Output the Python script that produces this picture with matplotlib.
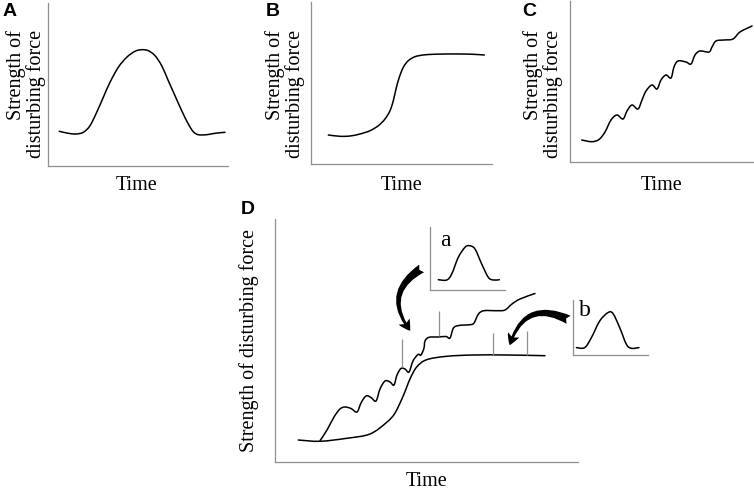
"""Schematic of disturbing-force profiles over time (pulse, step, ramp, combined)."""

import matplotlib

matplotlib.use("Agg")
import matplotlib.pyplot as plt
import numpy as np
from matplotlib.patches import FancyArrowPatch, PathPatch
from matplotlib.path import Path

W, H = 754, 489

# A: pulse disturbance
a_time = [11.3, 20.3, 28, 35.3, 42, 48.7, 55.3, 62, 70.3, 78.7, 87, 93.7,
          100.3, 107, 113.7, 120.3, 127, 133.7, 140.3, 145.3, 150.3, 158.7, 167, 177]
a_force = [34.7, 32.7, 32, 33.7, 40.3, 53.7, 68.7, 83.7, 98.7, 108.7, 114.7, 116.3,
           115.3, 110.3, 100.3, 85.3, 70.3, 55.3, 42, 34.3, 31.3, 31.3, 32.7, 33.7]

# B: press (step) disturbance
b_time = [17.3, 29, 39, 49, 59, 67.3, 74, 79, 82.3, 85, 88.3, 92.3, 97.3, 104,
          112.3, 122.3, 135.7, 149, 162.3, 173.3]
b_force = [29, 27.7, 28, 30, 33.3, 38.3, 45, 53.3, 63.3, 75, 86.7, 96.7, 103.3, 107.3,
           109, 109.7, 110, 110, 109.7, 109]

# C: ramp disturbance with fluctuations
c_time = [11.7, 21.7, 29, 35, 41, 47, 53, 57, 62, 68, 72, 76, 82, 87, 91, 96, 101,
          104, 108, 116, 121, 125, 130, 139, 142, 146, 154, 163, 170, 182]
c_force = [22, 20.3, 22.5, 30, 42, 47, 43, 51, 57, 53, 62, 71, 77, 73, 82, 87, 84,
           95, 101, 100, 98, 107, 111, 110, 115, 121, 122, 123, 130, 136]

# D: step and ramp together
d_step_time = [23.3, 45, 71.7, 95, 111.7, 120, 128.3, 135, 141.7, 151.7, 171.7, 198.3,
               231.7, 270]
d_step_force = [22, 20.7, 23.7, 28, 39.7, 49, 66.3, 83, 95, 102.3, 105.7, 107, 107, 106.3]

d_wave_time = [45, 52, 59, 65, 70, 76, 82, 86, 91, 96, 101, 105, 110, 115, 119, 122,
               126, 130, 134, 138, 143, 146, 149, 150, 154, 163, 171, 175, 178.5, 184,
               195, 199, 203.5, 209, 222, 230, 237, 245, 260]
d_wave_force = [21.3, 32, 45, 53, 55, 53.5, 50, 59, 66, 64.5, 61, 73, 81, 80, 77, 87,
                93.5, 93, 90, 101, 107.5, 107, 114, 121, 124.7, 125, 125.5, 124, 134, 136.5,
                137.3, 139, 148, 151.3, 151.3, 152, 158, 163, 168.5]

# D: pulse events marked on the curves
mark_time = [126.7, 164, 218.3, 252.3]
mark_low = [94.7, 126, 107.3, 107.3]
mark_high = [123, 151.3, 128.7, 130.7]

# insets a and b: the pulse shape
inset_a_time = [8.3, 16.7, 21.7, 28.3, 35, 39.3, 45, 51.7, 58.3, 63.3, 69.3]
inset_a_force = [10.3, 10, 16, 32.7, 42.7, 44.3, 41, 26, 12.7, 10, 10.3]
inset_b_time = [3.4, 11.7, 18.4, 26.7, 35, 40, 46.7, 53.4, 58.4, 66]
inset_b_force = [7.4, 7.4, 17.4, 34, 42.4, 41.4, 27.4, 10.7, 6.7, 7.4]

SPINE_COLOR = "#8f8f8f"
SERIF = ["Liberation Serif", "DejaVu Serif"]
SANS = ["Liberation Sans", "DejaVu Sans"]
YLABEL = "Strength of disturbing force"


def smooth_path(x, y):
    """Catmull-Rom path through the given points."""
    pts = np.column_stack([x, y]).astype(float)
    padded = np.vstack([pts[0], pts, pts[-1]])
    verts = [pts[0]]
    codes = [Path.MOVETO]
    for i in range(1, len(padded) - 2):
        p0, p1, p2, p3 = padded[i - 1], padded[i], padded[i + 1], padded[i + 2]
        verts += [p1 + (p2 - p0) / 6, p2 - (p3 - p1) / 6, p2]
        codes += [Path.CURVE4] * 3
    return Path(verts, codes)


def make_panel(fig, left, top, right, bottom):
    ax = fig.add_axes([left / W, 1 - bottom / H, (right - left) / W, (bottom - top) / H])
    ax.set_xlim(0, right - left)
    ax.set_ylim(0, bottom - top)
    for side in ("top", "right"):
        ax.spines[side].set_visible(False)
    for side in ("left", "bottom"):
        ax.spines[side].set_color(SPINE_COLOR)
        ax.spines[side].set_linewidth(0.9)
    ax.set_xticks([])
    ax.set_yticks([])
    ax.patch.set_alpha(0)
    return ax


def draw_curve(ax, x, y, lw=1.1):
    ax.add_patch(PathPatch(smooth_path(x, y), fill=False, edgecolor="black",
                           linewidth=lw, capstyle="round", clip_on=False))


fig = plt.figure(figsize=(W / 100, H / 100), dpi=100)
ov = fig.add_axes([0, 0, 1, 1])
ov.set_xlim(0, W)
ov.set_ylim(H, 0)
ov.axis("off")

ax_a = make_panel(fig, 48, 4, 228, 167)
draw_curve(ax_a, a_time, a_force)
ax_b = make_panel(fig, 311, 3, 492, 165)
draw_curve(ax_b, b_time, b_force)
ax_c = make_panel(fig, 570, 2, 754, 163)
draw_curve(ax_c, c_time, c_force)
ax_d = make_panel(fig, 275, 220, 578, 463)
draw_curve(ax_d, d_step_time, d_step_force)
draw_curve(ax_d, d_wave_time, d_wave_force)
ax_d.vlines(mark_time, mark_low, mark_high, color=SPINE_COLOR, linewidth=0.9)

ax_ia = make_panel(fig, 430, 228, 505, 291)
draw_curve(ax_ia, inset_a_time, inset_a_force)
ax_ib = make_panel(fig, 573, 301, 648, 356)
draw_curve(ax_ib, inset_b_time, inset_b_force)

# text
for cx, letter in [(10, "A"), (273, "B"), (529, "C")]:
    ov.text(cx, 12, letter, fontsize=14, fontweight="bold", family=SANS,
            ha="center", va="center")
ov.text(248, 209, "D", fontsize=14, fontweight="bold", family=SANS,
        ha="center", va="center")

for cx, tx in [(26, 137), (285, 402), (543, 662)]:
    ov.text(cx, 94, "Strength of\ndisturbing force", rotation=90, fontsize=14.5,
            family=SERIF, ha="center", va="center", multialignment="right",
            linespacing=0.95)
    ov.text(tx, 185, "Time", fontsize=14.5, family=SERIF, ha="center", va="center")

ov.text(249, 341, YLABEL, rotation=90, fontsize=14.5, family=SERIF,
        ha="center", va="center")
ov.text(427, 481, "Time", fontsize=14.5, family=SERIF, ha="center", va="center")
ov.text(445, 241, "a", fontsize=17, family=SERIF, ha="center", va="center")
ov.text(585, 311, "b", fontsize=17, family=SERIF, ha="center", va="center")

# arrows
arrow_style = "fancy,head_length=0.8,head_width=0.9,tail_width=0.65"
for tail, head, rad in [((424, 268), (412, 334), 0.58), ((571, 322), (509, 349), 0.62)]:
    ov.add_patch(FancyArrowPatch(tail, head, connectionstyle=f"arc3,rad={rad}",
                                 arrowstyle=arrow_style, mutation_scale=10,
                                 color="black", linewidth=0))

fig.savefig("out.png", dpi=100)
